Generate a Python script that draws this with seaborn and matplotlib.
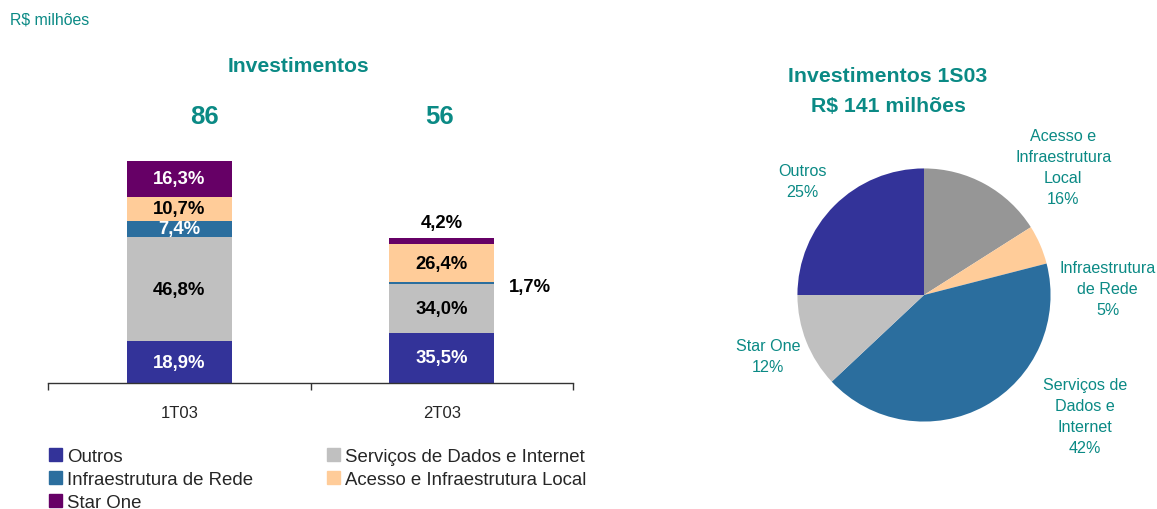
import numpy as np
import matplotlib
matplotlib.use("Agg")
import matplotlib.pyplot as plt
import pandas as pd
import seaborn as sb

# dados
trimestres = ['1T03', '2T03']
totais = [86, 56]
segmentos = ['Outros', 'Serviços de Dados e Internet', 'Infraestrutura de Rede',
             'Acesso e Infraestrutura Local', 'Star One']
pct_1t03 = [18.9, 46.8, 7.4, 10.7, 16.3]
pct_2t03 = [35.5, 34.0, 1.7, 26.4, 4.2]
rotulos_1t03 = ['18,9%', '46,8%', '7,4%', '10,7%', '16,3%']
rotulos_2t03 = ['35,5%', '34,0%', '1,7%', '26,4%', '4,2%']

pie_nomes = ['Acesso e\nInfraestrutura\nLocal', 'Infraestrutura\nde Rede',
             'Serviços de\nDados e\nInternet', 'Star One', 'Outros']
pie_valores = [16, 5, 42, 12, 25]

cores = {'Outros': '#333399', 'Serviços de Dados e Internet': '#c0c0c0',
         'Infraestrutura de Rede': '#2b6e9e', 'Acesso e Infraestrutura Local': '#ffcc99',
         'Star One': '#660066'}
cores_pie = ['#969696', '#ffcc99', '#2b6e9e', '#c0c0c0', '#333399']
teal = '#0b8a85'

sb.set_style('white')
plt.rcParams['font.family'] = ['Liberation Sans', 'DejaVu Sans']

W, H = 1157, 510
fig = plt.figure(figsize=(W / 100, H / 100), dpi=100)

# grafico de barras empilhadas
ax = fig.add_axes([48 / W, (H - 384) / H, 525 / W, 323 / H])

valores = []
for t, pcts in zip(totais, [pct_1t03, pct_2t03]):
    soma = sum(pcts)
    valores += [t * p / soma for p in pcts]
df = pd.DataFrame({'trimestre': np.repeat(trimestres, len(segmentos)),
                   'segmento': segmentos * 2,
                   'valor': valores})
df['acum'] = df.groupby('trimestre')['valor'].cumsum()

# desenha do topo para a base (sobreposicao)
for seg in segmentos[::-1]:
    sub = df[df['segmento'] == seg]
    sb.barplot(data=sub, x='trimestre', y='acum', order=trimestres, color=cores[seg],
               width=0.4, saturation=1, ax=ax, linewidth=0, errorbar=None)

ax.set_xlim(-0.5, 1.5)
ax.set_ylim(0, 125)
ax.set_xlabel('')
ax.set_ylabel('')
ax.set_yticks([])
for s in ['top', 'right', 'left']:
    ax.spines[s].set_visible(False)
ax.spines['bottom'].set_color('#333333')
ax.spines['bottom'].set_linewidth(1)
ax.set_xticks([0, 1])
ax.set_xticklabels(trimestres, fontsize=12)
ax.tick_params(axis='x', which='major', length=0, pad=16, bottom=True)
ax.set_xticks([-0.5, 0.5, 1.5], minor=True)
ax.tick_params(axis='x', which='minor', length=5, width=1, color='#333333',
               direction='out', bottom=True)

# rotulos das barras
cor_txt_1 = ['white', 'black', 'white', 'black', 'white']
for i, (tri, rots) in enumerate(zip(trimestres, [rotulos_1t03, rotulos_2t03])):
    sub = df[df['trimestre'] == tri].reset_index(drop=True)
    for j in range(len(segmentos)):
        meio = sub['acum'][j] - sub['valor'][j] / 2
        x, y = i, meio
        cor = cor_txt_1[j] if i == 0 else ('white' if j == 0 else 'black')
        if i == 1 and j == 2:
            x, y = 1.335, 37.3
        if i == 1 and j == 4:
            y = 62.3
        ax.text(x, y, rots[j], ha='center', va='center', fontsize=13.3,
                fontweight='bold', color=cor, clip_on=False)

ax.text(0.095, 103.3, str(totais[0]), ha='center', va='center', fontsize=18.5,
        fontweight='bold', color=teal)
ax.text(0.99, 103.3, str(totais[1]), ha='center', va='center', fontsize=18.5,
        fontweight='bold', color=teal)

fig.text(298 / W, 1 - 66 / H, 'Investimentos', ha='center', va='center', fontsize=15.2,
         fontweight='bold', color=teal)
fig.text(10 / W, 1 - 20 / H, 'R$ milhões', ha='left', va='center', fontsize=11.4, color=teal)

# legenda
ordem = ['Outros', 'Infraestrutura de Rede', 'Star One',
         'Serviços de Dados e Internet', 'Acesso e Infraestrutura Local']
handles = [plt.Rectangle((0, 0), 1, 1, color=cores[s]) for s in ordem]
fig.legend(handles, ordem, loc='upper left', bbox_to_anchor=(49 / W, 1 - 449 / H),
           ncol=2, frameon=False, fontsize=13.4, handlelength=0.7, handleheight=0.7,
           handletextpad=0.25, columnspacing=4.0, labelspacing=0.32, borderaxespad=0,
           borderpad=0)

# grafico de pizza
lado = 405
axp = fig.add_axes([(924 - lado / 2) / W, (H - 296 - lado / 2) / H, lado / W, lado / H])
axp.pie(pie_valores, colors=cores_pie, startangle=90, counterclock=False, radius=1,
        wedgeprops={'linewidth': 0})
axp.set_xlim(-1.6, 1.6)
axp.set_ylim(-1.6, 1.6)
axp.set_aspect('equal')
axp.axis('off')

pos_rotulos = [(1.10, 1.01), (1.45, 0.05), (1.27, -0.96), (-1.23, -0.48), (-0.96, 0.90)]
for nome, v, (px, py) in zip(pie_nomes, pie_valores, pos_rotulos):
    axp.text(px, py, f'{nome}\n{v}%', ha='center', va='center', fontsize=11.6,
             color=teal, linespacing=1.5, clip_on=False)

fig.text(888 / W, 1 - 77 / H, 'Investimentos 1S03', ha='center', va='center',
         fontsize=15.3, fontweight='bold', color=teal)
fig.text(888 / W, 1 - 106 / H, 'R$ 141 milhões', ha='center', va='center',
         fontsize=15.3, fontweight='bold', color=teal)

fig.savefig('out.png', dpi=100)
